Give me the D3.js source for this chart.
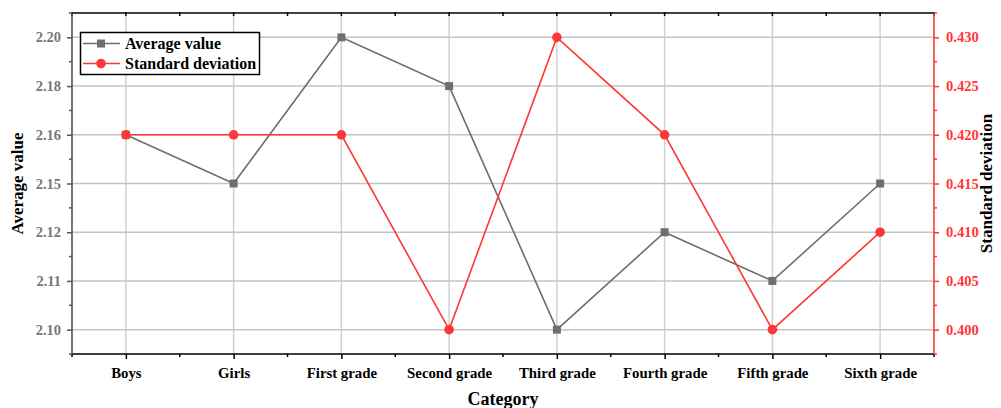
<!DOCTYPE html>
<html>
<head>
<meta charset="utf-8">
<script src="https://cdn.jsdelivr.net/npm/d3@7"></script>
<style>
  html, body { margin: 0; padding: 0; background: #fff; }
  svg { display: block; }
  text { font-family: "Liberation Serif", "Times New Roman", serif; font-weight: bold; }
</style>
</head>
<body>
<svg id="chart" width="1001" height="408"></svg>
<script>
// Survey results by group
const categories = ["Boys", "Girls", "First grade", "Second grade", "Third grade", "Fourth grade", "Fifth grade", "Sixth grade"];
const averageValues = [2.16, 2.15, 2.20, 2.18, 2.10, 2.12, 2.11, 2.15];
const stdDeviations = [0.420, 0.420, 0.420, 0.400, 0.430, 0.420, 0.400, 0.410];

// Left axis uses evenly spaced labelled levels
const leftTickLabels = ["2.10", "2.11", "2.12", "2.15", "2.16", "2.18", "2.20"];
const rightTicks = [0.400, 0.405, 0.410, 0.415, 0.420, 0.425, 0.430];
const rightDomain = [0.3975, 0.4325];

const greyColor = "#6e6e6e";
const redColor = "#ff3636";
const gridColor = "#c4c4c4";

const frame = { left: 72, right: 934, top: 13, bottom: 354 };
const svg = d3.select("#chart");

const x = d3.scalePoint().domain(categories).range([frame.left, frame.right]).padding(0.5);
const yLeft = d3.scalePoint().domain(leftTickLabels).range([frame.bottom, frame.top]).padding(0.5);
const yRight = d3.scaleLinear().domain(rightDomain).range([frame.bottom, frame.top]);

const xStep = x.step();
const yStep = yLeft.step();

// Grid lines
const grid = svg.append("g");
grid.selectAll("line.vg").data(categories).join("line")
  .attr("x1", d => x(d)).attr("x2", d => x(d))
  .attr("y1", frame.top).attr("y2", frame.bottom)
  .attr("stroke", "#d0d0d0").attr("stroke-width", 1.5);
grid.selectAll("line.hg").data(leftTickLabels).join("line")
  .attr("x1", frame.left).attr("x2", frame.right)
  .attr("y1", d => yLeft(d)).attr("y2", d => yLeft(d))
  .attr("stroke", gridColor).attr("stroke-width", 1.5);

// Bottom axis
const xMinor = [frame.left].concat(categories.map(c => x(c) + xStep / 2));
const bottomAxis = svg.append("g").attr("transform", `translate(0,${frame.bottom})`)
  .call(d3.axisBottom(x).tickSize(5).tickPadding(8));
bottomAxis.select(".domain").attr("stroke", "#000").attr("stroke-width", 1.6)
  .attr("d", `M${frame.left},0H${frame.right}`);
bottomAxis.selectAll(".tick line").attr("stroke", "#000").attr("stroke-width", 1.5);
bottomAxis.selectAll(".tick text").attr("font-size", 14.8).attr("fill", "#000")
  .attr("font-family", "Liberation Serif, serif").attr("font-weight", "bold");
bottomAxis.selectAll("line.minor").data(xMinor).join("line")
  .attr("x1", d => d).attr("x2", d => d).attr("y1", 0).attr("y2", 3)
  .attr("stroke", "#000").attr("stroke-width", 1.5);

// Top border with inward ticks
const topBorder = svg.append("g");
topBorder.append("line").attr("x1", frame.left).attr("x2", frame.right)
  .attr("y1", frame.top).attr("y2", frame.top).attr("stroke", "#000").attr("stroke-width", 1.6);
topBorder.selectAll("line.t").data(categories.map(c => x(c)).concat(xMinor)).join("line")
  .attr("x1", d => d).attr("x2", d => d).attr("y1", frame.top - 1).attr("y2", frame.top + 3)
  .attr("stroke", "#000").attr("stroke-width", 1.5);

// Left axis
const leftAxis = svg.append("g").attr("transform", `translate(${frame.left},0)`)
  .call(d3.axisLeft(yLeft).tickSize(5).tickPadding(6));
leftAxis.select(".domain").attr("stroke", "#555").attr("stroke-width", 1.6)
  .attr("d", `M0,${frame.top}V${frame.bottom}`);
leftAxis.selectAll(".tick line").attr("stroke", "#555").attr("stroke-width", 1.5);
leftAxis.selectAll(".tick text").attr("font-size", 14.5).attr("fill", "#777")
  .attr("font-family", "Liberation Serif, serif").attr("font-weight", "bold");
const yMinor = [frame.bottom].concat(leftTickLabels.map(l => yLeft(l) - yStep / 2));
leftAxis.selectAll("line.minor").data(yMinor).join("line")
  .attr("x1", -3).attr("x2", 0).attr("y1", d => d).attr("y2", d => d)
  .attr("stroke", "#555").attr("stroke-width", 1.5);

// Right axis
const rightAxis = svg.append("g").attr("transform", `translate(${frame.right},0)`)
  .call(d3.axisRight(yRight).tickValues(rightTicks).tickFormat(d3.format(".3f")).tickSize(5).tickPadding(7));
rightAxis.select(".domain").attr("stroke", redColor).attr("stroke-width", 1.6)
  .attr("d", `M0,${frame.top}V${frame.bottom}`);
rightAxis.selectAll(".tick line").attr("stroke", redColor).attr("stroke-width", 1.5);
rightAxis.selectAll(".tick text").attr("font-size", 14.5).attr("fill", redColor)
  .attr("font-family", "Liberation Serif, serif").attr("font-weight", "bold");
const rMinor = d3.range(0, 8).map(i => rightDomain[0] + i * 0.005);
rightAxis.selectAll("line.minor").data(rMinor).join("line")
  .attr("x1", 0).attr("x2", 3).attr("y1", d => yRight(d)).attr("y2", d => yRight(d))
  .attr("stroke", redColor).attr("stroke-width", 1.5);

// Series lines
const avgLine = d3.line().x((d, i) => x(categories[i])).y(d => yLeft(d.toFixed(2)));
const sdLine = d3.line().x((d, i) => x(categories[i])).y(d => yRight(d));

svg.append("path").datum(averageValues).attr("d", avgLine)
  .attr("fill", "none").attr("stroke", greyColor).attr("stroke-width", 1.6);
svg.append("path").datum(stdDeviations).attr("d", sdLine)
  .attr("fill", "none").attr("stroke", redColor).attr("stroke-width", 1.6);

svg.selectAll("rect.avg").data(averageValues).join("rect")
  .attr("x", (d, i) => x(categories[i]) - 4).attr("y", d => yLeft(d.toFixed(2)) - 4)
  .attr("width", 8).attr("height", 8).attr("fill", greyColor);
svg.selectAll("circle.sd").data(stdDeviations).join("circle")
  .attr("cx", (d, i) => x(categories[i])).attr("cy", d => yRight(d))
  .attr("r", 4.8).attr("fill", redColor);

// Legend
const legend = svg.append("g");
legend.append("rect").attr("x", 80.5).attr("y", 32.5).attr("width", 179).attr("height", 42)
  .attr("fill", "#fff").attr("stroke", "#000").attr("stroke-width", 1.5);
const legendItems = [
  { label: "Average value", color: greyColor, shape: "square" },
  { label: "Standard deviation", color: redColor, shape: "circle" }
];
legendItems.forEach((item, i) => {
  const cy = 43.5 + i * 20;
  legend.append("line").attr("x1", 83).attr("x2", 120).attr("y1", cy).attr("y2", cy)
    .attr("stroke", item.color).attr("stroke-width", 1.6);
  if (item.shape === "square") {
    legend.append("rect").attr("x", 97).attr("y", cy - 4).attr("width", 8).attr("height", 8).attr("fill", item.color);
  } else {
    legend.append("circle").attr("cx", 101).attr("cy", cy).attr("r", 4.8).attr("fill", item.color);
  }
  legend.append("text").attr("x", 125).attr("y", cy + 5).attr("font-size", 16).attr("fill", "#000").text(item.label);
});

// Axis titles
svg.append("text").attr("x", (frame.left + frame.right) / 2).attr("y", 405)
  .attr("text-anchor", "middle").attr("font-size", 18).attr("fill", "#000").text("Category");
svg.append("text").attr("transform", `translate(23,${(frame.top + frame.bottom) / 2}) rotate(-90)`)
  .attr("text-anchor", "middle").attr("font-size", 17).attr("fill", "#000").text("Average value");
svg.append("text").attr("transform", `translate(992,${(frame.top + frame.bottom) / 2}) rotate(-90)`)
  .attr("text-anchor", "middle").attr("font-size", 17).attr("fill", "#000").text("Standard deviation");
</script>
</body>
</html>
